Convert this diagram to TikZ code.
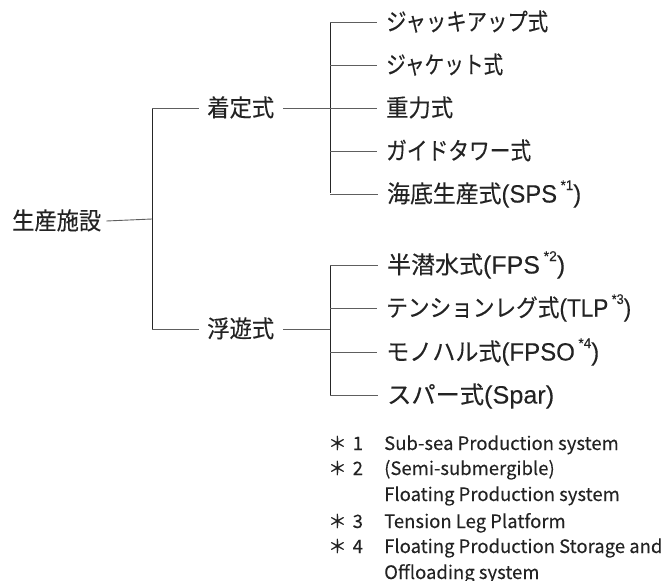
\documentclass[tikz,border=0pt]{standalone}
\usepackage{fontspec}
\usepackage{graphicx}
\setmainfont{Noto Sans CJK JP}
\newfontfamily\lblfont[FakeBold=0.2]{Noto Sans CJK JP}
\newfontfamily\lat[FakeBold=0.15]{Liberation Sans}
\newfontfamily\fnfont[FakeBold=0.12]{Noto Sans CJK JP}
\definecolor{txt}{HTML}{232323}
\definecolor{hline}{HTML}{5E5E5E}
\definecolor{vline}{HTML}{262626}
\newcommand{\fnmark}[1]{\hspace{0.15em}\raisebox{0.5em}{\fontsize{14}{14}\selectfont #1}}
\newcommand{\fitw}[2]{\resizebox{#1pt}{\height}{#2}}
\newcommand{\paren}[1]{{\lat\fontsize{25}{25}\selectfont #1}}
\begin{document}
\begin{tikzpicture}[x=1pt,y=-1pt,
  lbl/.style={anchor=west,inner sep=0pt,text=txt,text height=19.5pt,text depth=2.5pt,font=\fontsize{24}{24}\selectfont\lblfont},
  fnote/.style={anchor=base west,inner sep=0pt,text=txt,align=left,font=\fontsize{18.5}{26}\selectfont\fnfont},
  hconn/.style={draw=hline,line width=0.9pt},
  vconn/.style={draw=vline,line width=0.9pt}]
\useasboundingbox (0,0) rectangle (665,581);
% nodes
\node[lbl] (root) at (12,221) {\fitw{89}{生産施設}};
\node[lbl] (a) at (207,108) {\fitw{67}{着定式}};
\node[lbl] (b) at (207,329) {\fitw{67}{浮遊式}};
\node[lbl] (c1) at (386,22) {\fitw{162}{ジャッキアップ式}};
\node[lbl] (c2) at (386,65) {\fitw{117}{ジャケット式}};
\node[lbl] (c3) at (386,108) {\fitw{67}{重力式}};
\node[lbl] (c4) at (386,151) {\fitw{145}{ガイドタワー式}};
\node[lbl] (c5) at (387,194) {\fitw{194}{海底生産式\paren{(SPS\fnmark{*1})}}};
\node[lbl] (d1) at (387,265) {\fitw{178}{半潜水式\paren{(FPS\fnmark{*2})}}};
\node[lbl] (d2) at (386,308) {\fitw{245}{テンションレグ式\paren{(TLP\fnmark{*3})}}};
\node[lbl] (d3) at (386,352) {\fitw{213}{モノハル式\paren{(FPSO\fnmark{*4})}}};
\node[lbl] (d4) at (387,395) {\fitw{167}{スパー式\paren{(Spar)}}};
% junctions
\coordinate (j0) at (152,219);
\coordinate (ja) at (152,108);
\coordinate (jb) at (152,329);
\coordinate (ka) at (330,108);
\coordinate (ka1) at (330,22);
\coordinate (ka5) at (330,193);
\coordinate (kb) at (330,329);
\coordinate (kb1) at (330,265);
\coordinate (kb4) at (330,395);
% connectors
\draw[hconn] ([xshift=5pt]root.east) -- (j0);
\draw[vconn] (ja) -- (jb);
\draw[hconn] (ja) -- ([xshift=-8pt]a.west);
\draw[hconn] (jb) -- ([xshift=-8pt]b.west);
\draw[hconn] ([xshift=9pt]a.east) -- (ka);
\draw[hconn] ([xshift=9pt]b.east) -- (kb);
\draw[vconn] (ka1) -- (ka5);
\draw[vconn] (kb1) -- (kb4);
\foreach \n in {c1,c2,c3,c4,c5} \draw[hconn] (ka1 |- \n.west) -- ([xshift=-9pt]\n.west);
\foreach \n in {d1,d2,d3,d4} \draw[hconn] (kb1 |- \n.west) -- ([xshift=-9pt]\n.west);
% footnotes
\node[fnote] (s1) at (328,450) {＊\hspace{6pt}1};
\node[fnote] (f1) at (384,450) {Sub-sea Production system};
\node[fnote] (s2) at (328,475) {＊\hspace{6pt}2};
\node[fnote] (f2) at (384,501) {(Semi-submergible)\\Floating Production system};
\node[fnote] (s3) at (328,528) {＊\hspace{6pt}3};
\node[fnote] (f3) at (384,528) {Tension Leg Platform};
\node[fnote] (s4) at (328,553) {＊\hspace{6pt}4};
\node[fnote] (f4) at (384,579) {Floating Production Storage and\\Offloading system};
\end{tikzpicture}
\end{document}
